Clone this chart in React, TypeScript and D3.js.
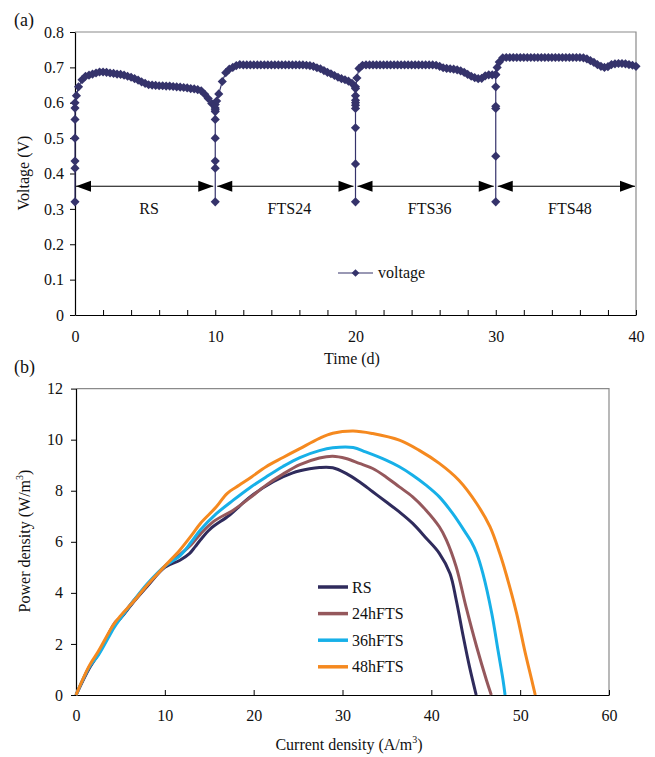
// Fuel cell voltage over time (a) and power density curves (b)
import { useEffect, useRef } from 'react';
import * as d3 from 'd3';

type Pt = [number, number];

// (a) voltage vs time, [day, V], one list per substrate period
const voltageRS: Pt[] = [
  [0, 0.32], [0, 0.415], [0, 0.435], [0, 0.5], [0, 0.553], [0, 0.585], [0, 0.6], [0.1, 0.62],
  [0.25, 0.645], [0.5, 0.665], [0.75, 0.675], [1, 0.678], [1.25, 0.681], [1.5, 0.684], [1.75, 0.687],
  [2, 0.687], [2.25, 0.686], [2.5, 0.684], [2.75, 0.683], [3, 0.681], [3.25, 0.68], [3.5, 0.678],
  [3.75, 0.675], [4, 0.672], [4.25, 0.668], [4.5, 0.664], [4.75, 0.659], [5, 0.655], [5.25, 0.651],
  [5.5, 0.65], [5.75, 0.649], [6, 0.648], [6.25, 0.648], [6.5, 0.647], [6.75, 0.647], [7, 0.646],
  [7.25, 0.645], [7.5, 0.644], [7.75, 0.643], [8, 0.642], [8.25, 0.64], [8.5, 0.639], [8.75, 0.637],
  [9, 0.634], [9.25, 0.624], [9.5, 0.612], [9.75, 0.598], [10, 0.585], [10, 0.575],
];
const voltageFTS24: Pt[] = [
  [10, 0.32], [10, 0.415], [10, 0.435], [10, 0.5], [10, 0.553], [10, 0.58], [10, 0.595], [10.1, 0.605],
  [10.25, 0.625], [10.5, 0.66], [10.75, 0.685], [11, 0.695], [11.25, 0.7], [11.5, 0.705], [11.75, 0.708],
  [12, 0.707], [12.25, 0.707], [12.5, 0.707], [12.75, 0.707], [13, 0.707], [13.25, 0.707], [13.5, 0.707],
  [13.75, 0.707], [14, 0.707], [14.25, 0.707], [14.5, 0.707], [14.75, 0.707], [15, 0.707], [15.25, 0.707],
  [15.5, 0.707], [15.75, 0.707], [16, 0.707], [16.25, 0.707], [16.5, 0.706], [16.75, 0.705],
  [17, 0.703], [17.25, 0.699], [17.5, 0.696], [17.75, 0.691], [18, 0.686], [18.25, 0.682], [18.5, 0.677],
  [18.75, 0.672], [19, 0.668], [19.25, 0.665], [19.5, 0.661], [19.75, 0.655], [20, 0.645],
  [20, 0.62], [20, 0.607], [20, 0.593],
];
const voltageFTS36: Pt[] = [
  [20, 0.32], [20, 0.427], [20, 0.529], [20, 0.584], [20, 0.6], [20, 0.64], [20.1, 0.67],
  [20.25, 0.697], [20.5, 0.706], [20.75, 0.707], [21, 0.707], [21.25, 0.707], [21.5, 0.707], [21.75, 0.707],
  [22, 0.707], [22.25, 0.707], [22.5, 0.707], [22.75, 0.707], [23, 0.707], [23.25, 0.707], [23.5, 0.707],
  [23.75, 0.707], [24, 0.707], [24.25, 0.707], [24.5, 0.707], [24.75, 0.707], [25, 0.707], [25.25, 0.707],
  [25.5, 0.707], [25.75, 0.706], [26, 0.703], [26.25, 0.699], [26.5, 0.697], [26.75, 0.696], [27, 0.695],
  [27.25, 0.693], [27.5, 0.69], [27.75, 0.686], [28, 0.68], [28.25, 0.675], [28.5, 0.671], [28.75, 0.668],
  [29, 0.669], [29.25, 0.676], [29.5, 0.679], [29.75, 0.679], [30, 0.679],
];
const voltageFTS48: Pt[] = [
  [30, 0.32], [30, 0.449], [30, 0.584], [30, 0.59], [30, 0.645], [30, 0.68], [30.1, 0.7],
  [30.25, 0.715], [30.5, 0.727], [30.75, 0.728], [31, 0.728], [31.25, 0.728], [31.5, 0.728], [31.75, 0.728],
  [32, 0.728], [32.25, 0.728], [32.5, 0.728], [32.75, 0.728], [33, 0.728], [33.25, 0.728], [33.5, 0.728],
  [33.75, 0.728], [34, 0.728], [34.25, 0.728], [34.5, 0.728], [34.75, 0.728], [35, 0.728], [35.25, 0.728],
  [35.5, 0.728], [35.75, 0.728], [36, 0.728], [36.25, 0.727], [36.5, 0.724], [36.75, 0.719], [37, 0.714],
  [37.25, 0.708], [37.5, 0.703], [37.75, 0.7], [38, 0.702], [38.25, 0.708], [38.5, 0.71], [38.75, 0.711],
  [39, 0.711], [39.25, 0.71], [39.5, 0.708], [39.75, 0.706], [40, 0.703],
];
const periodNames = ['RS', 'FTS24', 'FTS36', 'FTS48'];
const periodBounds = [0, 10, 20, 30, 40];
const arrowVoltage = 0.364;
const timeTicks = [0, 2, 4, 6, 8, 10, 12, 14, 16, 18, 20, 22, 24, 26, 28, 30, 32, 34, 36, 38, 40];
const timeLabels = [0, 10, 20, 30, 40];
const voltageTicks = [0, 0.1, 0.2, 0.3, 0.4, 0.5, 0.6, 0.7, 0.8];

// (b) power density vs current density, [A/m3, W/m3]
const powerRS: Pt[] = [
  [0, 0], [1.5, 1.05], [2.5, 1.6], [4.3, 2.75], [5, 3.0], [6.5, 3.65], [8, 4.25], [10, 5.0],
  [11.7, 5.28], [12.8, 5.55], [13.4, 5.8], [14, 6.07], [15.1, 6.5], [17.3, 7.05], [19.6, 7.76],
  [22.2, 8.35], [24.4, 8.7], [26.3, 8.86], [27.4, 8.91], [28.9, 8.9], [30.4, 8.68], [31.9, 8.35],
  [33.4, 7.96], [34.9, 7.57], [36.4, 7.17], [37.9, 6.72], [39.4, 6.15], [40.9, 5.55], [42.1, 4.76],
  [42.8, 3.72], [43.6, 2.28], [44.3, 1.1], [45.05, 0],
];
const power24h: Pt[] = [
  [0, 0], [1.5, 1.1], [2.5, 1.6], [4.3, 2.8], [5, 3.05], [6.5, 3.7], [8, 4.3], [10, 5.05],
  [11.7, 5.5], [13, 5.9], [14, 6.3], [15.5, 6.8], [17.7, 7.24], [19.5, 7.7], [21.4, 8.22],
  [23.3, 8.65], [25.2, 9.02], [27.4, 9.28], [28.9, 9.35], [30.4, 9.26], [31.9, 9.07], [33.4, 8.87],
  [34.9, 8.54], [36.4, 8.15], [37.9, 7.76], [39.4, 7.24], [40.9, 6.59], [41.7, 6.07], [42.8, 5.02],
  [43.9, 3.46], [45.1, 1.89], [46.2, 0.59], [46.75, 0],
];
const power36h: Pt[] = [
  [0, 0], [1.5, 1.1], [2.5, 1.55], [4.3, 2.65], [5, 3.0], [6.5, 3.7], [8, 4.35], [10, 5.05],
  [11.7, 5.45], [13, 6.0], [14, 6.46], [15.8, 7.1], [17.7, 7.63], [19.5, 8.1], [21.4, 8.54],
  [23.3, 8.95], [25.2, 9.3], [27.4, 9.57], [28.9, 9.68], [31.2, 9.69], [32.6, 9.52], [34.9, 9.2],
  [36.4, 8.94], [37.9, 8.61], [39.4, 8.22], [40.9, 7.76], [42.4, 7.11], [43.9, 6.33], [44.5, 6.0],
  [45.1, 5.55], [45.8, 4.76], [46.8, 3.2], [47.5, 1.76], [48.07, 0.59], [48.3, 0],
];
const power48h: Pt[] = [
  [0, 0], [1.5, 1.15], [2.5, 1.7], [4.2, 2.74], [5, 3.1], [6.45, 3.65], [8, 4.3], [10, 5.05],
  [11.7, 5.68], [13, 6.25], [14, 6.72], [15.8, 7.37], [17, 7.89], [18.4, 8.22], [19.8, 8.55],
  [21.4, 8.94], [23.3, 9.3], [25.2, 9.65], [27.4, 10.05], [28.9, 10.25], [31.2, 10.34], [33.4, 10.24],
  [36.4, 9.98], [38.6, 9.59], [40.9, 9.07], [43.1, 8.41], [45.1, 7.5], [46.6, 6.59], [47.7, 5.55],
  [48.4, 4.76], [49.6, 3.2], [50.5, 1.76], [51.3, 0.59], [51.7, 0],
];
const seriesNames = ['RS', '24hFTS', '36hFTS', '48hFTS'];
const seriesData = [powerRS, power24h, power36h, power48h];
const seriesColors = ['#2f2b5c', '#95585c', '#17b0e8', '#f5891f'];
const currentTicks = [0, 10, 20, 30, 40, 50, 60];
const powerTicks = [0, 2, 4, 6, 8, 10, 12];

const FONT = '"Liberation Serif", "Times New Roman", serif';
const NAVY = '#35336b';

const App = () => {
  const svgRef = useRef<SVGSVGElement>(null);

  useEffect(() => {
    const svg = d3.select(svgRef.current);
    svg.selectAll('*').remove();

    const styleAxis = (g: any) => {
      g.attr('font-family', FONT).attr('font-size', 16);
      g.select('.domain').attr('stroke', '#000').attr('stroke-width', 1.2);
      g.selectAll('.tick line').attr('stroke', '#000').attr('stroke-width', 1);
      g.selectAll('.tick text').attr('fill', '#111');
    };

    // ---------- panel (a) ----------
    const xA = d3.scaleLinear().domain([0, 40]).range([75, 636]);
    const yA = d3.scaleLinear().domain([0, 0.8]).range([315, 32]);

    // grey plot-area border (top, right)
    svg.append('path')
      .attr('d', `M${xA(0)},${yA(0.8)}H${xA(40)}V${yA(0)}`)
      .attr('fill', 'none').attr('stroke', '#8a8a8a').attr('stroke-width', 1.2);

    svg.append('g')
      .attr('transform', `translate(${xA(0)},0)`)
      .call(d3.axisLeft(yA).tickValues(voltageTicks).tickSize(5).tickSizeOuter(0).tickPadding(6)
        .tickFormat((d: any) => (d === 0 ? '0' : d3.format('.1f')(d))))
      .call(styleAxis);

    const gxA = svg.append('g')
      .attr('transform', `translate(0,${yA(0)})`)
      .call(d3.axisBottom(xA).tickValues(timeTicks).tickSizeInner(-5).tickSizeOuter(0)
        .tickFormat((d: any) => (timeLabels.includes(d) ? String(d) : '')))
      .call(styleAxis);
    gxA.selectAll('.tick text').attr('y', 27).attr('dy', 0);

    // period arrows
    const ya = yA(arrowVoltage);
    const head = (tipX: number, dir: number) =>
      `M${tipX},${ya}L${tipX - dir * 15},${ya - 5.5}L${tipX - dir * 15},${ya + 5.5}Z`;
    periodNames.forEach((name, i) => {
      const x0 = xA(periodBounds[i]) + (i === 0 ? 1 : 2);
      const x1 = xA(periodBounds[i + 1]) - (i === periodNames.length - 1 ? 1 : 2);
      svg.append('line').attr('x1', x0).attr('x2', x1).attr('y1', ya).attr('y2', ya)
        .attr('stroke', '#000').attr('stroke-width', 1);
      svg.append('path').attr('d', head(x0, -1)).attr('fill', '#000');
      svg.append('path').attr('d', head(x1, 1)).attr('fill', '#000');
      svg.append('text')
        .attr('x', xA((periodBounds[i] + periodBounds[i + 1]) / 2) + 4)
        .attr('y', yA(0.3) + 5.5)
        .attr('text-anchor', 'middle').attr('font-family', FONT).attr('font-size', 16).attr('fill', '#111')
        .text(name);
    });

    // voltage series (thin connecting line + dense diamond markers)
    const voltage = [...voltageRS, ...voltageFTS24, ...voltageFTS36, ...voltageFTS48];
    svg.append('path')
      .datum(voltage)
      .attr('d', d3.line<Pt>().x(d => xA(d[0])).y(d => yA(d[1])))
      .attr('fill', 'none').attr('stroke', NAVY).attr('stroke-width', 1.2);
    const diamond = d3.symbol().type(d3.symbolSquare).size(42)();
    svg.append('g').selectAll('path')
      .data(voltage)
      .join('path')
      .attr('d', diamond)
      .attr('transform', d => `translate(${xA(d[0])},${yA(d[1])}) rotate(45)`)
      .attr('fill', NAVY);

    // legend (a)
    svg.append('line').attr('x1', 338).attr('x2', 373).attr('y1', 273).attr('y2', 273)
      .attr('stroke', NAVY).attr('stroke-width', 1.2);
    svg.append('path').attr('d', d3.symbol().type(d3.symbolSquare).size(30)())
      .attr('transform', 'translate(355.5,273) rotate(45)').attr('fill', NAVY);
    svg.append('text').attr('x', 378).attr('y', 278).attr('font-family', FONT).attr('font-size', 16)
      .attr('fill', '#111').text('voltage');

    // titles (a)
    svg.append('text').attr('x', 352).attr('y', 364).attr('text-anchor', 'middle')
      .attr('font-family', FONT).attr('font-size', 16).attr('fill', '#111').text('Time (d)');
    svg.append('text').attr('transform', `translate(29,173) rotate(-90)`).attr('text-anchor', 'middle')
      .attr('font-family', FONT).attr('font-size', 16).attr('fill', '#111').text('Voltage (V)');
    svg.append('text').attr('x', 14).attr('y', 26).attr('font-family', FONT).attr('font-size', 18)
      .attr('fill', '#111').text('(a)');

    // ---------- panel (b) ----------
    const xB = d3.scaleLinear().domain([0, 60]).range([76, 609]);
    const yB = d3.scaleLinear().domain([0, 12]).range([695, 388.6]);

    svg.append('path')
      .attr('d', `M${xB(0)},${yB(12)}H${xB(60)}V${yB(0)}`)
      .attr('fill', 'none').attr('stroke', '#8a8a8a').attr('stroke-width', 1.2);

    svg.append('g')
      .attr('transform', `translate(${xB(0)},0)`)
      .call(d3.axisLeft(yB).tickValues(powerTicks).tickSize(5).tickSizeOuter(0).tickPadding(8))
      .call(styleAxis);

    const gxB = svg.append('g')
      .attr('transform', `translate(0,${yB(0)})`)
      .call(d3.axisBottom(xB).tickValues(currentTicks).tickSizeInner(-5).tickSizeOuter(0))
      .call(styleAxis);
    gxB.selectAll('.tick text').attr('y', 26).attr('dy', 0);

    const lineB = d3.line<Pt>().x(d => xB(d[0])).y(d => yB(d[1])).curve(d3.curveCatmullRom.alpha(0.5));
    seriesData.forEach((data, i) => {
      svg.append('path')
        .datum(data)
        .attr('d', lineB)
        .attr('fill', 'none')
        .attr('stroke', seriesColors[i])
        .attr('stroke-width', 3)
        .attr('stroke-linejoin', 'round');
    });

    // legend (b)
    seriesNames.forEach((name, i) => {
      const ly = 587 + i * 26.6;
      svg.append('line').attr('x1', 318).attr('x2', 348).attr('y1', ly).attr('y2', ly)
        .attr('stroke', seriesColors[i]).attr('stroke-width', 3.5);
      svg.append('text').attr('x', 352).attr('y', ly + 5.5).attr('font-family', FONT).attr('font-size', 16)
        .attr('fill', '#111').text(name);
    });

    // titles (b)
    const xt = svg.append('text').attr('x', 349).attr('y', 750).attr('text-anchor', 'middle')
      .attr('font-family', FONT).attr('font-size', 16).attr('fill', '#111');
    xt.append('tspan').text('Current density (A/m');
    xt.append('tspan').attr('dy', -7).attr('font-size', 10).text('3');
    xt.append('tspan').attr('dy', 7).text(')');

    const yt = svg.append('text').attr('transform', `translate(30,541) rotate(-90)`).attr('text-anchor', 'middle')
      .attr('font-family', FONT).attr('font-size', 16).attr('fill', '#111');
    yt.append('tspan').text('Power density (W/m');
    yt.append('tspan').attr('dy', -7).attr('font-size', 10).text('3');
    yt.append('tspan').attr('dy', 7).text(')');

    svg.append('text').attr('x', 14).attr('y', 373).attr('font-family', FONT).attr('font-size', 18)
      .attr('fill', '#111').text('(b)');

    return () => { svg.selectAll('*').remove(); };
  }, []);

  return (
    <svg
      ref={svgRef}
      width={655}
      height={757}
      style={{ position: 'absolute', left: 0, top: 0, background: '#fff' }}
    />
  );
};

export default App;
